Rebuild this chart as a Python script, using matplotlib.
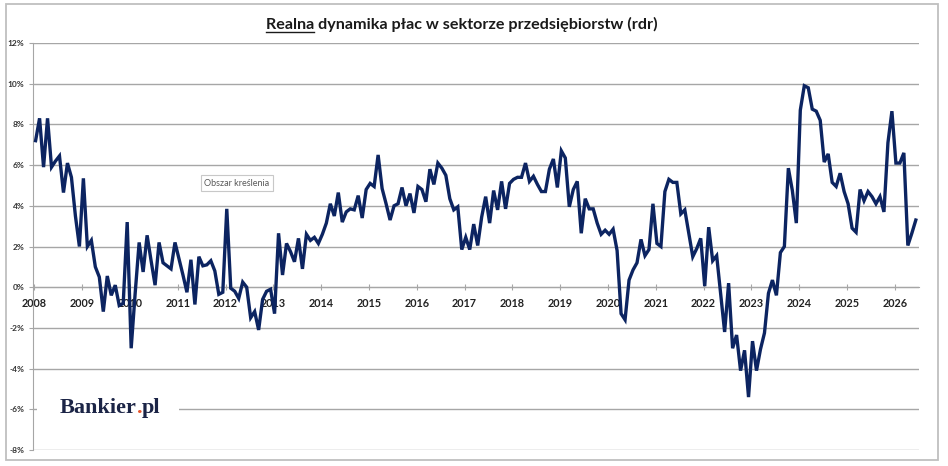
import numpy as np
import matplotlib
matplotlib.use("Agg")
import matplotlib.pyplot as plt
from matplotlib.lines import Line2D
from matplotlib.patches import Rectangle

# real wage growth (y/y, %), monthly, Jan 2008 onwards
y2008 = [7.2, 8.3, 5.9, 8.3, 5.9, 6.2, 6.45, 4.65, 6.1, 5.4, 3.5, 2.0]
y2009 = [5.35, 2.0, 2.3, 1.0, 0.5, -1.2, 0.55, -0.4, 0.1, -0.9, -0.8, 3.2]
y2010 = [-3.0, -0.3, 2.2, 0.75, 2.55, 1.3, 0.1, 2.2, 1.2, 1.05, 0.9, 2.2]
y2011 = [1.4, 0.6, -0.25, 1.35, -0.85, 1.5, 1.05, 1.1, 1.3, 0.8, -0.35, -0.25]
y2012 = [3.85, -0.05, -0.2, -0.55, 0.25, 0.0, -1.5, -1.2, -2.1, -0.6, -0.2, -0.1]
y2013 = [-1.3, 2.65, 0.6, 2.15, 1.75, 1.25, 2.4, 0.9, 2.6, 2.3, 2.45, 2.15]
y2014 = [2.6, 3.15, 4.1, 3.5, 4.65, 3.2, 3.7, 3.85, 3.8, 4.5, 3.4, 4.8]
y2015 = [5.1, 4.95, 6.5, 4.85, 4.1, 3.3, 4.0, 4.1, 4.9, 4.0, 4.6, 3.65]
y2016 = [4.95, 4.8, 4.2, 5.8, 5.05, 6.1, 5.85, 5.5, 4.35, 3.8, 3.95, 1.85]
y2017 = [2.45, 1.85, 3.1, 2.05, 3.45, 4.45, 3.15, 4.75, 3.8, 5.2, 3.85, 5.1]
y2018 = [5.3, 5.4, 5.4, 6.1, 5.2, 5.45, 5.05, 4.7, 4.7, 5.8, 6.3, 4.9]
y2019 = [6.7, 6.35, 3.95, 4.8, 5.2, 2.65, 4.35, 3.85, 3.85, 3.15, 2.6, 2.8]
y2020 = [2.6, 2.85, 1.8, -1.3, -1.6, 0.35, 0.85, 1.2, 2.35, 1.55, 1.85, 4.1]
y2021 = [2.15, 2.0, 4.7, 5.3, 5.15, 5.15, 3.6, 3.8, 2.65, 1.5, 1.9, 2.4]
y2022 = [0.05, 2.95, 1.3, 1.55, -0.3, -2.2, 0.2, -3.0, -2.35, -4.1, -3.1, -5.4]
y2023 = [-2.65, -4.1, -3.05, -2.25, -0.3, 0.35, -0.4, 1.7, 2.0, 5.85, 4.75, 3.15]
y2024 = [8.7, 9.9, 9.8, 8.75, 8.65, 8.2, 6.15, 6.55, 5.15, 4.95, 5.6, 4.7]
y2025 = [4.1, 2.9, 2.7, 4.8, 4.25, 4.7, 4.45, 4.1, 4.45, 3.7, 7.1, 8.65]
y2026 = [6.1, 6.1, 6.6, 2.05, 2.65, 3.3]

years = list(range(2008, 2027))
yticks = list(range(-8, 13, 2))

values = np.concatenate([y2008, y2009, y2010, y2011, y2012, y2013, y2014,
                         y2015, y2016, y2017, y2018, y2019, y2020, y2021,
                         y2022, y2023, y2024, y2025, y2026])
months = np.arange(len(values)) + 0.3

W, H = 948, 466
fig = plt.figure(figsize=(W / 100, H / 100), dpi=100)
ax = fig.add_axes([33 / W, 16 / H, (919 - 33) / W, (450 - 43) / H])

grid_c = "#a6a6a6"
ax.plot(months, values, color="#0c2461", lw=2.4, solid_joinstyle="miter", zorder=3)

ax.set_ylim(-8, 12)
ax.set_xlim(-0.35, 222.1)
ax.set_yticks(yticks)
ax.set_yticklabels([f"{v}%" for v in yticks])
ax.set_xticks([12 * (y - 2008) for y in years])
ax.set_xticklabels([str(y) for y in years])

ax.yaxis.grid(True, color=grid_c, lw=1.0)
ax.set_axisbelow(True)
for s in ["top", "right"]:
    ax.spines[s].set_visible(False)
ax.spines["left"].set_color(grid_c)
ax.spines["bottom"].set_color(grid_c)
ax.spines["bottom"].set_position(("data", 0))

ax.tick_params(axis="y", direction="out", length=3, color=grid_c, pad=3,
               labelsize=6, labelcolor="#333333")
ax.tick_params(axis="x", direction="inout", length=5, color=grid_c, pad=5,
               labelsize=7.8, labelcolor="#222222")
for lab in ax.get_yticklabels() + ax.get_xticklabels():
    lab.set_fontweight("bold")
    lab.set_family("Lato")

# white patch behind logo
ax.add_patch(Rectangle((37 / W, 44 / H), (179 - 37) / W, 30 / H,
                       transform=fig.transFigure, fc="white", ec="none", zorder=1))

# logo: navy text with an orange dot
lprops = dict(fontsize=16, fontweight="bold", family="Liberation Serif", va="baseline")
lx, ly = 60, 52.7
fig.canvas.draw()
r = fig.canvas.get_renderer()
tmp = fig.text(0, 0, "Bankier", **lprops)
w1 = tmp.get_window_extent(r).width
tmp.remove()
tmp = fig.text(0, 0, "Bankier.", **lprops)
w2 = tmp.get_window_extent(r).width
tmp.remove()
fig.text(lx / W, ly / H, "Bankier", color="#1b2446", **lprops)
fig.text((lx + w1 + 0.6) / W, ly / H, ".", color="#e8552b", **lprops)
fig.text((lx + w2 + 1.2) / W, ly / H, "pl", color="#1b2446", **lprops)

# excel tooltip leftover
fig.text(238.5 / W, 281.5 / H, "Obszar kreślenia", ha="center", va="center",
         fontsize=6.5, family="Lato", color=(0, 0, 0, 0),
         bbox=dict(boxstyle="square,pad=0.35", fc="#d9d9d9", ec="none"))
fig.text(237 / W, 283 / H, "Obszar kreślenia", ha="center", va="center",
         fontsize=6.5, family="Lato", color="#595959",
         bbox=dict(boxstyle="square,pad=0.35", fc="white", ec="#c8c8c8", lw=0.8))

# outer frame
fig.patches.append(Rectangle((6 / W, 6 / H), (938 - 6) / W, (462 - 6) / H,
                             transform=fig.transFigure, fill=False,
                             ec="#bfbfbf", lw=1.3))

# title with underlined first word
tprops = dict(fontsize=11.6, fontweight="bold", family="Lato", color="#1a1a1a")
title = fig.text(461.5 / W, (H - 29.5) / H,
                 "Realna dynamika płac w sektorze przedsiębiorstw (rdr)",
                 ha="center", va="baseline", **tprops)
fig.canvas.draw()
bb = title.get_window_extent(r)
tmp = fig.text(0, 0, "Realna", **tprops)
w = tmp.get_window_extent(r).width
tmp.remove()
uy = (H - 31.5) / H
fig.add_artist(Line2D([bb.x0 / W, (bb.x0 + w) / W], [uy, uy],
                      transform=fig.transFigure, color="#1a1a1a", lw=1.0))

fig.savefig("out.png", dpi=100)
